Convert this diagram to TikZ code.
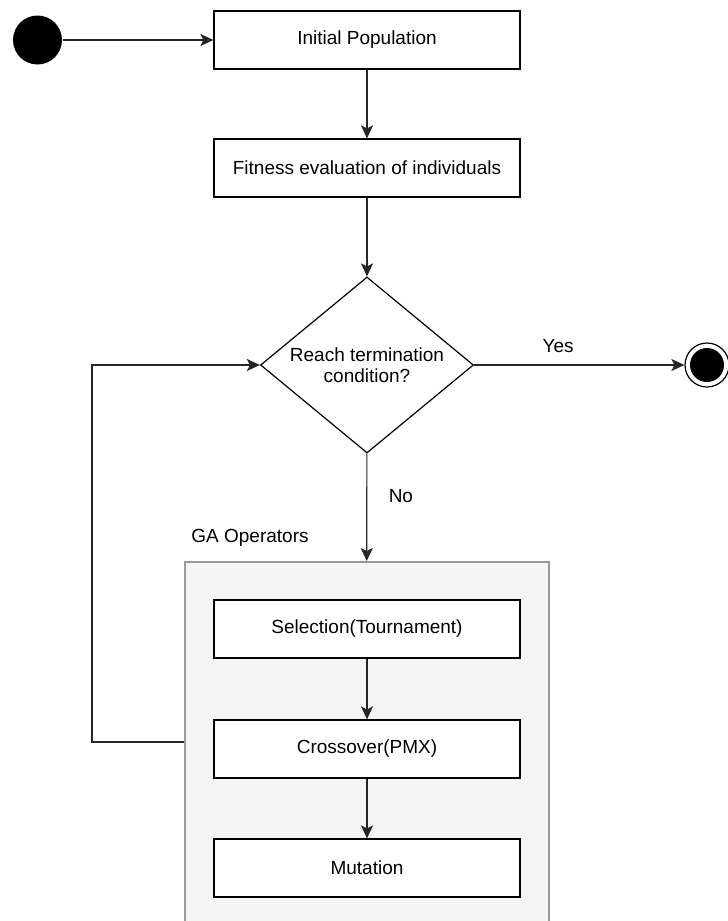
\documentclass[tikz,border=0pt]{standalone}
\usepackage{fontspec}
\setmainfont{Liberation Sans}
\usepackage{xcolor}
\usepackage{tikz}
\usetikzlibrary{arrows.meta,shapes.geometric}

\begin{document}
\begin{tikzpicture}[x=1pt,y=-1pt,line width=1.2pt,
    every node/.style={align=center,font=\fontsize{19}{21}\selectfont},
    box/.style={draw,rectangle,minimum width=306pt,minimum height=58pt,fill=white},
    arr/.style={draw=black!85,-{Stealth[length=13pt,width=12pt,inset=3pt]}}]
    \useasboundingbox (0,0) rectangle (728,921);
    \clip (0,0) rectangle (728,921);
    \node[shape=circle,fill=black,minimum size=49pt,inner sep=0pt] (start) at (37.5,40) {};
    \node[box] (init) at (367,40) {Initial Population};
    \node[box] (fit) at (367,168) {Fitness evaluation of individuals};
    \node[draw,diamond,aspect=1.21,minimum width=213pt,minimum height=176pt,inner sep=0pt] (cond) at (367,365) {Reach termination\\condition?};
    \node[shape=circle,draw,minimum size=44pt,inner sep=0pt] (stop) at (707,365) {};
    \node[shape=circle,fill=black,minimum size=34pt,inner sep=0pt] at (stop) {};
    \node[draw=black!40,fill=black!4,line width=1.5pt,minimum width=364pt,minimum height=390pt,anchor=north west] (ga) at (184,561) {};
    \node (galabel) at (250,538) {GA Operators};
    \node[box] (sel) at (367,629) {Selection(Tournament)};
    \node[box] (cross) at (367,749) {Crossover(PMX)};
    \node[box] (mut) at (367,868) {Mutation};
    \coordinate (back) at (92,742);
    \draw[arr] (start) -- (init);
    \draw[arr] (init) -- (fit);
    \draw[arr] (fit) -- (cond);
    \draw[arr] (cond) -- node[pos=0.4,right=18pt] {No} (ga.north);
    \draw[arr] (cond.east) -- node[above=8pt,pos=0.4] {Yes} (stop.west);
    \draw[arr] (sel) -- (cross);
    \draw[arr] (cross) -- (mut);
    \draw[arr] (back -| ga.west) -- (back) |- (cond.west);
\end{tikzpicture}
\end{document}
